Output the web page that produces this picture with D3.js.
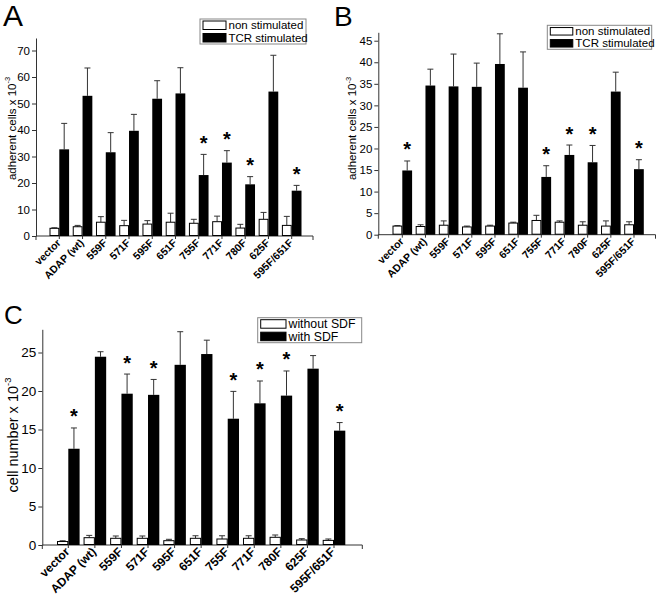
<!DOCTYPE html>
<html><head><meta charset="utf-8">
<script src="https://cdn.jsdelivr.net/npm/d3@7"></script>
<style>
body{margin:0;background:#fff}
svg{display:block}
svg text{font-family:"Liberation Sans",Arial,Helvetica,sans-serif;fill:#000}
</style>
</head><body>
<svg id="chart" width="661" height="595"></svg>
<script>
// ---------- DATA ----------
const categories = ["vector","ADAP (wt)","559F","571F","595F","651F","755F","771F","780F","625F","595F/651F"];

const legendAB = ["non stimulated","TCR stimulated"];
const legendC  = ["without SDF","with SDF"];

// Panel A : adherent cells x 10^-3
const aNonMean = [2.9, 3.5, 5.2, 3.9, 4.5, 5.2, 4.8, 5.4, 3.0, 6.3, 4.0];
const aNonErr  = [0.2, 0.5, 2.1, 2.0, 1.3, 3.4, 1.5, 2.1, 1.4, 2.6, 3.4];
const aTcrMean = [32.7, 52.9, 31.6, 39.7, 51.8, 53.8, 23.0, 27.7, 19.5, 54.5, 17.1];
const aTcrErr  = [9.8, 10.5, 7.4, 6.2, 6.8, 9.7, 7.8, 4.5, 2.9, 13.7, 2.0];
const aSig     = [false,false,false,false,false,false,true,true,true,false,true];
const aTicks   = [0,10,20,30,40,50,60,70];

// Panel B : adherent cells x 10^-3
const bNonMean = [2.0, 1.9, 2.2, 1.8, 2.0, 2.7, 3.3, 2.9, 2.2, 2.0, 2.3];
const bNonErr  = [0.1, 0.4, 1.0, 0.2, 0.2, 0.2, 1.2, 0.3, 0.8, 1.2, 0.7];
const bTcrMean = [14.9, 34.6, 34.4, 34.3, 39.6, 34.1, 13.4, 18.5, 16.8, 33.2, 15.2];
const bTcrErr  = [2.2, 3.8, 7.5, 5.5, 7.0, 8.3, 2.6, 2.3, 3.9, 4.5, 2.2];
const bSig     = [true,false,false,false,false,false,true,true,true,false,true];
const bTicks   = [0,5,10,15,20,25,30,35,40,45];

// Panel C : cell number x 10^-3
const cNonMean = [0.45, 0.95, 0.87, 0.87, 0.56, 0.87, 0.78, 0.87, 1.0, 0.65, 0.6];
const cNonErr  = [0.1, 0.3, 0.3, 0.3, 0.18, 0.33, 0.42, 0.33, 0.3, 0.17, 0.18];
const cSdfMean = [12.5, 24.45, 19.65, 19.5, 23.4, 24.8, 16.4, 18.4, 19.4, 22.9, 14.85];
const cSdfErr  = [2.7, 0.65, 2.55, 2.0, 4.3, 1.8, 3.55, 2.9, 3.2, 1.7, 1.05];
const cSig     = [true,false,true,true,false,false,true,true,true,false,true];
const cTicks   = [0,5,10,15,20,25];

// ---------- LAYOUT ----------
const panels = [
  {letter:"A", letterX:3, letterY:26, letterFs:30,
   ax:36, axEnd:313, y0:236, yTop:38, pxPerUnit:2.65,
   c0:59.3, step:23.24, bw:9.8,
   ticks:aTicks, tickFs:11.5,
   nonMean:aNonMean, nonErr:aNonErr, stMean:aTcrMean, stErr:aTcrErr, sig:aSig,
   xLabFs:10.5,
   yLabel:"adherent cells x 10", yLabX:15.5, yLabY:128.5, yLabFs:11.5,
   legend:legendAB, lgX:200, lgY:19, lgW:106, lgH:25, lgFs:11.5, swW:23, swH:8.5},
  {letter:"B", letterX:334, letterY:26, letterFs:28,
   ax:378.3, axEnd:655.5, y0:234.7, yTop:32.3, pxPerUnit:4.311,
   c0:402.3, step:23.17, bw:9.8,
   ticks:bTicks, tickFs:11.5,
   nonMean:bNonMean, nonErr:bNonErr, stMean:bTcrMean, stErr:bTcrErr, sig:bSig,
   xLabFs:10.5,
   yLabel:"adherent cells x 10", yLabX:356, yLabY:128.5, yLabFs:11.5,
   legend:legendAB, lgX:547.3, lgY:25.3, lgW:104.4, lgH:24, lgFs:11.5, swW:22.5, swH:7.5},
  {letter:"C", letterX:4, letterY:323.5, letterFs:26,
   ax:42.3, axEnd:362.3, y0:545, yTop:329.3, pxPerUnit:7.7,
   c0:68.3, step:26.57, bw:11.3,
   ticks:cTicks, tickFs:13.5,
   nonMean:cNonMean, nonErr:cNonErr, stMean:cSdfMean, stErr:cSdfErr, sig:cSig,
   xLabFs:12,
   yLabel:"cell number x 10", yLabX:18, yLabY:435, yLabFs:14.5,
   legend:legendC, lgX:257.7, lgY:317.7, lgW:104, lgH:25, lgFs:12.3, swW:25.3, swH:8.5}
];

const svg = d3.select("#chart");
const lineCol = "#333";
const FONT = '"Liberation Sans",Arial,Helvetica,sans-serif';

panels.forEach(p => {
  const g = svg.append("g").attr("font-family", FONT);
  const yMax = (p.y0 - p.yTop) / p.pxPerUnit;
  const y = d3.scaleLinear().domain([0, yMax]).range([p.y0, p.yTop]);
  const x = d3.scaleBand().domain(categories)
      .range([p.c0 - p.step/2, p.c0 - p.step/2 + p.step*categories.length])
      .paddingInner(0).paddingOuter(0);
  const cx = d => x(d) + x.bandwidth()/2;

  // panel letter
  g.append("text").attr("x", p.letterX).attr("y", p.letterY)
    .style("font-size", p.letterFs + "px").text(p.letter);

  // y axis
  const yAx = g.append("g").attr("transform", `translate(${p.ax},0)`)
    .call(d3.axisLeft(y).tickValues(p.ticks).tickSize(4).tickSizeOuter(0).tickPadding(2).tickFormat(d3.format("d")));
  yAx.attr("font-family", FONT).attr("font-size", null);
  yAx.select(".domain").attr("stroke", lineCol);
  yAx.selectAll(".tick line").attr("stroke", lineCol);
  yAx.selectAll(".tick text").style("font-size", p.tickFs + "px").attr("fill", "#000");

  // x axis line with end ticks
  g.append("path")
    .attr("d", `M${p.ax},${p.y0}H${p.axEnd}M${p.axEnd},${p.y0}V${p.y0+4}M${p.ax},${p.y0}V${p.y0+4}`)
    .attr("stroke", lineCol).attr("fill", "none");
  const xAx = g.append("g").attr("transform", `translate(0,${p.y0})`)
    .call(d3.axisBottom(x).tickSize(3).tickSizeOuter(0).tickFormat(""));
  xAx.select(".domain").remove();
  xAx.selectAll(".tick line").attr("stroke", lineCol);

  // x labels rotated
  g.append("g").selectAll("text").data(categories).join("text")
    .attr("transform", d => `translate(${cx(d)+2},${p.y0+7.5}) rotate(-45)`)
    .attr("text-anchor", "end").style("font-weight", "bold")
    .style("font-size", p.xLabFs + "px").text(d => d);

  const idx = d3.range(categories.length);
  const drawErr = (mean, err, xc) => {
    g.append("g").selectAll("path").data(idx).join("path")
      .attr("d", i => {
        const xm = xc(i), t = y(mean[i] + err[i]), b = y(mean[i]);
        return `M${xm},${b}V${t}M${xm-3},${t}H${xm+3}`;
      })
      .attr("stroke", lineCol).attr("stroke-width", 1).attr("fill", "none");
  };
  const xWhite = i => cx(categories[i]) - p.bw/2;
  const xBlack = i => cx(categories[i]) + p.bw/2;
  drawErr(p.nonMean, p.nonErr, xWhite);
  drawErr(p.stMean, p.stErr, xBlack);

  g.append("g").selectAll("rect").data(idx).join("rect")
    .attr("x", i => cx(categories[i]) - p.bw + 0.5)
    .attr("width", p.bw - 1)
    .attr("y", i => y(p.nonMean[i]))
    .attr("height", i => p.y0 - y(p.nonMean[i]) - 0.5)
    .attr("fill", "#fff").attr("stroke", "#000").attr("stroke-width", 1);
  g.append("g").selectAll("rect").data(idx).join("rect")
    .attr("x", i => cx(categories[i]))
    .attr("width", p.bw)
    .attr("y", i => y(p.stMean[i]))
    .attr("height", i => p.y0 - y(p.stMean[i]))
    .attr("fill", "#000");

  // significance stars
  g.append("g").selectAll("text").data(idx.filter(i => p.sig[i])).join("text")
    .attr("x", i => xBlack(i))
    .attr("y", i => y(p.stMean[i] + p.stErr[i]) - 4.5)
    .attr("text-anchor", "middle").style("font-weight", "bold").style("font-size", "20px")
    .text("*");

  // y label
  const yl = g.append("text")
    .attr("transform", `translate(${p.yLabX},${p.yLabY}) rotate(-90)`)
    .attr("text-anchor", "middle").style("font-size", p.yLabFs + "px").text(p.yLabel);
  yl.append("tspan").attr("dy", -p.yLabFs*0.45).style("font-size", (p.yLabFs*0.65) + "px").text("-3");

  // legend
  const lg = g.append("g");
  lg.append("rect").attr("x", p.lgX).attr("y", p.lgY).attr("width", p.lgW).attr("height", p.lgH)
    .attr("fill", "#fff").attr("stroke", "#888").attr("stroke-width", 1);
  const rowH = p.lgH/2;
  p.legend.forEach((name, k) => {
    const ry = p.lgY + rowH*k + (rowH - p.swH)/2;
    lg.append("rect").attr("x", p.lgX + 3).attr("y", ry).attr("width", p.swW).attr("height", p.swH)
      .attr("fill", k === 0 ? "#fff" : "#000").attr("stroke", "#000").attr("stroke-width", 1);
    lg.append("text").attr("x", p.lgX + 3 + p.swW + 2.5).attr("y", p.lgY + rowH*k + rowH/2 + p.lgFs*0.36)
      .style("font-size", p.lgFs + "px").text(name);
  });
});
</script>
</body></html>
